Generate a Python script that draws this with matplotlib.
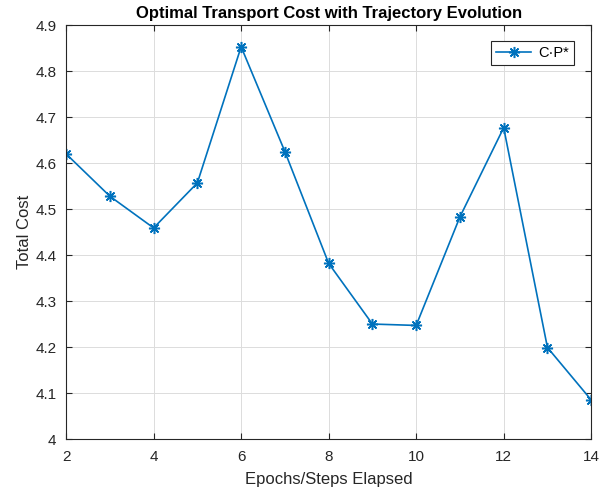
import numpy as np
import matplotlib
matplotlib.use("Agg")
import matplotlib.pyplot as plt

plt.rcParams['font.family'] = ['Liberation Sans', 'DejaVu Sans']

# %% data
epochs = [2, 3, 4, 5, 6, 7, 8, 9, 10, 11, 12, 13, 14]
total_cost = [4.620, 4.528, 4.459, 4.557, 4.853, 4.625, 4.382, 4.250, 4.247,
              4.483, 4.677, 4.199, 4.085]

# %% plot
fig = plt.figure(figsize=(6.12, 4.93), dpi=100)
ax = fig.add_axes([0.108, 0.1095, 0.858, 0.8395])
ax.plot(epochs, total_cost, color="#0072BD", marker=(8, 2, 0), markersize=8,
        markeredgewidth=1.1, linewidth=1.2, label="C\u00b7P*")

ax.set_xlim(2, 14)
ax.set_ylim(4, 4.9)
ax.set_xticks(np.arange(2, 15, 2))
ax.set_yticks(np.arange(4, 4.91, 0.1))
ax.set_yticklabels(["4", "4.1", "4.2", "4.3", "4.4", "4.5", "4.6", "4.7", "4.8", "4.9"])
ax.grid(True, color="#dcdcdc", linewidth=0.7)
ax.tick_params(direction="in", top=True, right=True, labelsize=11, colors="#262626",
               length=4)
ax.tick_params(axis="x", pad=8)
ax.tick_params(axis="y", pad=7)
for s in ax.spines.values():
    s.set_color("#262626")
    s.set_linewidth(0.8)

ax.set_xlabel("Epochs/Steps Elapsed", fontsize=12, color="#262626", labelpad=6)
ax.set_ylabel("Total Cost", fontsize=12, color="#262626", labelpad=2.5)
ax.set_title("Optimal Transport Cost with Trajectory Evolution", fontsize=12,
             fontweight="bold", pad=5)
leg = ax.legend(loc="upper right", fancybox=False, framealpha=1, fontsize=10.5,
                edgecolor="#262626", borderpad=0.35, handlelength=2.4,
                handletextpad=0.5, bbox_to_anchor=(0.982, 0.98))
leg.get_frame().set_linewidth(0.8)

fig.savefig("out.png", dpi=100)
